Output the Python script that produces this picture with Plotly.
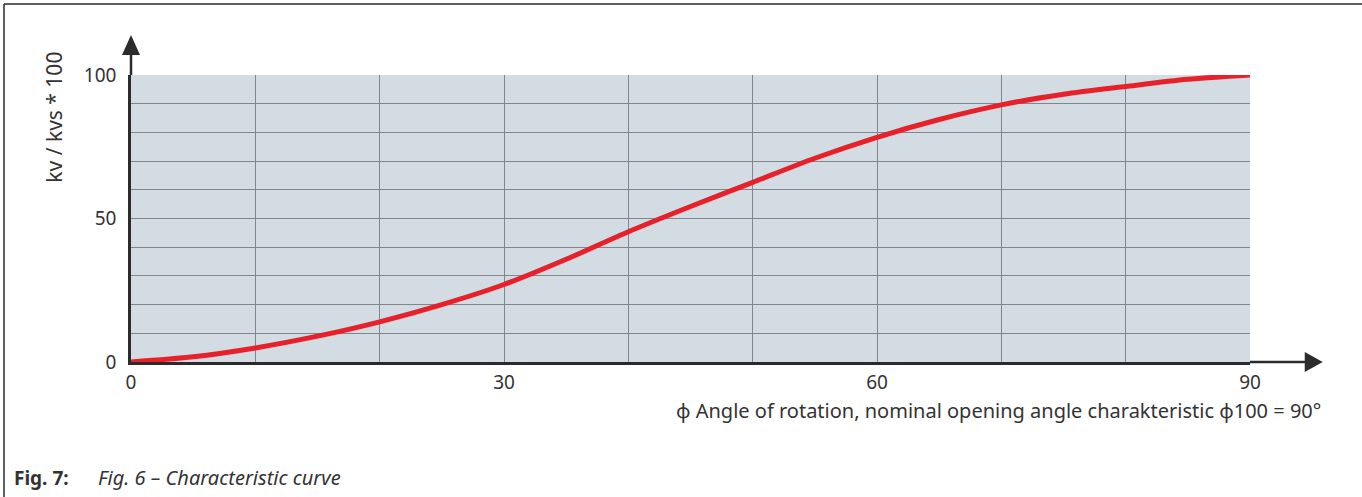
import plotly.graph_objects as go

# Data
angle_deg = [0, 5, 10, 15, 20, 25, 30, 35, 40, 45, 50, 55, 60, 65, 70, 75, 80, 85, 90]
kv_kvs = [0, 1.8, 4.9, 9.0, 14.0, 20.0, 27.0, 35.8, 45.4, 54.2, 62.6, 71.0, 78.3, 84.5, 89.6, 93.3, 96.0, 98.5, 100]

x_tick_vals = [0, 30, 60, 90]
x_tick_text = ["0", "30", "60", "90"]
y_tick_vals = [0, 50, 100]
y_tick_text = ["0", "50", "100"]

x_title = "\u03c6 Angle of rotation, nominal opening angle charakteristic \u03c6100 = 90\u00b0"
y_title = "kv / kvs * 100"
caption_bold = "Fig. 7:"
caption_text = "Fig. 6 \u2013 Characteristic curve"

FONT = "Noto Sans"
TEXT = "#333333"
GRID = "#80868c"
AXIS = "#2b2b2b"

fig = go.Figure()
fig.add_trace(go.Scatter(
    x=angle_deg, y=kv_kvs, mode="lines",
    line=dict(color="#e8202a", width=5, shape="spline", smoothing=0.8),
    hoverinfo="skip", showlegend=False, cliponaxis=False,
))

fig.update_layout(
    width=1362, height=497,
    margin=dict(l=131, r=112, t=75, b=135),
    paper_bgcolor="white", plot_bgcolor="#d4dce3",
    font=dict(family=FONT, size=19, color=TEXT),
    showlegend=False,
)
fig.update_xaxes(
    range=[0, 90], tickvals=x_tick_vals, ticktext=x_tick_text,
    showgrid=True, gridcolor=GRID, gridwidth=1, zeroline=False,
    ticks="", ticklabelstandoff=1,
    showline=True, linecolor=AXIS, linewidth=2.5,
    minor=dict(tickvals=list(range(0, 91, 10)), showgrid=True, gridcolor=GRID, gridwidth=1),
)
fig.update_yaxes(
    range=[0, 100], tickvals=y_tick_vals, ticktext=y_tick_text,
    showgrid=True, gridcolor=GRID, gridwidth=1, zeroline=False,
    ticks="", ticklabelstandoff=8,
    showline=True, linecolor=AXIS, linewidth=2.5,
    minor=dict(tickvals=list(range(0, 101, 10)), showgrid=True, gridcolor=GRID, gridwidth=1),
)

# axis extensions with arrows
fig.add_shape(type="line", xref="x domain", yref="y domain", x0=1, x1=1.05, y0=0, y1=0,
              line=dict(color=AXIS, width=2.5))
fig.add_shape(type="line", xref="x domain", yref="y domain", x0=0, x1=0, y0=1, y1=1.1,
              line=dict(color=AXIS, width=2.5))
fig.add_shape(type="path", xref="x domain", yref="y domain",
              xsizemode="pixel", ysizemode="pixel", xanchor=1.065, yanchor=0,
              path="M 0 0 L -18 10 L -18 -10 Z", fillcolor=AXIS, line=dict(width=0))
fig.add_shape(type="path", xref="x domain", yref="y domain",
              xsizemode="pixel", ysizemode="pixel", xanchor=0, yanchor=1.139,
              path="M 0 0 L -9 -20 L 9 -20 Z", fillcolor=AXIS, line=dict(width=0))

# frame (top and left border)
fig.add_shape(type="line", xref="paper", yref="paper", x0=-0.1135, x1=1.2, y0=1.2474, y1=1.2474,
              line=dict(color=AXIS, width=1.5))
fig.add_shape(type="line", xref="paper", yref="paper", x0=-0.1135, x1=-0.1135, y0=1.2474, y1=-0.5,
              line=dict(color=AXIS, width=1.5))

# titles
fig.add_annotation(text=x_title, xref="paper", yref="paper", x=1.0656, y=-0.168,
                   xanchor="right", yanchor="middle", showarrow=False,
                   font=dict(family=FONT, size=20, color=TEXT))
fig.add_annotation(text=y_title, xref="paper", yref="paper", x=-0.069, y=0.854,
                   xanchor="center", yanchor="middle", textangle=-90, showarrow=False,
                   font=dict(family=FONT, size=21, color=TEXT))
fig.add_annotation(text="<b>" + caption_bold + "</b>", xref="paper", yref="paper",
                   x=-0.1063, y=-0.404, xanchor="left", yanchor="middle", showarrow=False,
                   font=dict(family=FONT, size=19, color=TEXT))
fig.add_annotation(text="<i>" + caption_text + "</i>", xref="paper", yref="paper",
                   x=-0.0313, y=-0.404, xanchor="left", yanchor="middle", showarrow=False,
                   font=dict(family=FONT, size=20, color=TEXT))

fig.write_html("out.html", config={"displayModeBar": False},
               post_script="document.body.style.margin='0';document.body.style.overflow='hidden';")
